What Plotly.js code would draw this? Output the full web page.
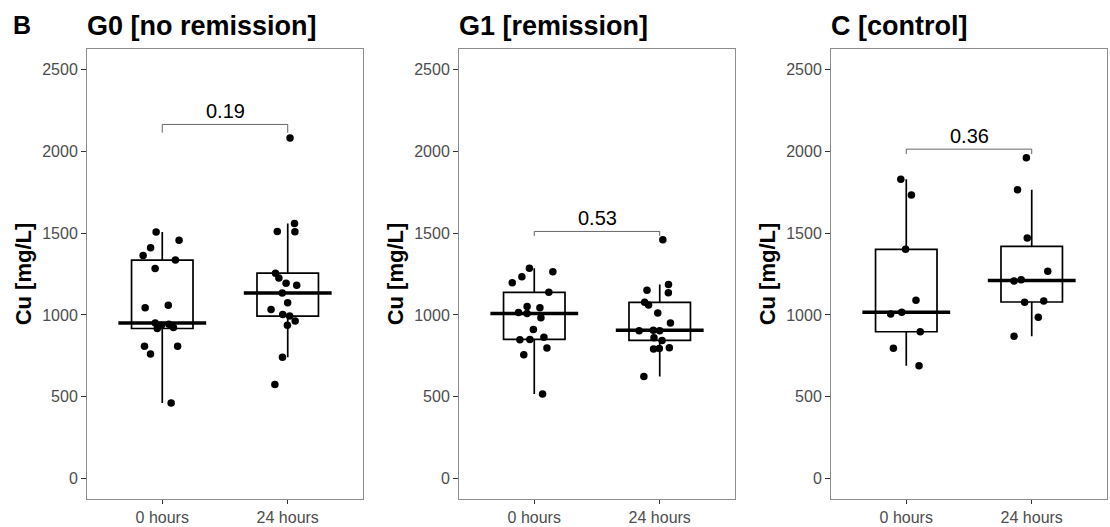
<!DOCTYPE html>
<html>
<head>
<meta charset="utf-8">
<script src="https://cdn.plot.ly/plotly-3.0.1.min.js"></script>
<style>
  html, body { margin: 0; padding: 0; background: #fff; }
  #chart { width: 1110px; height: 527px; }
</style>
</head>
<body>
<div id="chart"></div>
<script>
// Serum copper per patient group, before and 24 h after treatment
const timepoints = ['0 hours', '24 hours'];
const groupTitles = ['G0 [no remission]', 'G1 [remission]', 'C [control]'];
const pValues = ['0.19', '0.53', '0.36'];
const yTicks = [0, 500, 1000, 1500, 2000, 2500];

const g0Hour0 = [1507, 1456, 1411, 1363, 1335, 1284, 1059, 1043, 950, 923, 937, 917, 943, 808, 808, 761, 462];
const g0Hour24 = [2081, 1559, 1510, 1508, 1255, 1225, 1194, 1182, 1134, 1075, 1033, 1003, 993, 963, 937, 741, 575];

const g1Hour0 = [1285, 1264, 1197, 1233, 1138, 1014, 1008, 1043, 1051, 982, 911, 864, 848, 850, 798, 757, 516];
const g1Hour24 = [1460, 1186, 1150, 1136, 1077, 1060, 1012, 950, 907, 903, 903, 860, 844, 800, 795, 792, 623];

const cHour0 = [1829, 1733, 1401, 1090, 1017, 1005, 897, 796, 690];
const cHour24 = [1960, 1765, 1470, 1267, 1215, 1207, 1085, 1077, 985, 870];

const groups = [
  [g0Hour0, g0Hour24],
  [g1Hour0, g1Hour24],
  [cHour0, cHour24]
];

// Figure geometry (pixels)
const W = 1110, H = 527;
const panelLeft = [87, 459, 831];
const panelWidth = 276;
const plotTop = 49, plotBottom = 499;
const FONT = 'Liberation Sans, Arial, sans-serif';

// Bracket heights and tip lengths for the p-value labels (data units)
const bracketY = [2164, 1510, 2013];
const bracketTip = [50, 28, 30];

// Tukey box statistics with linearly interpolated quantiles
function quantile(sorted, p) {
  const h = (sorted.length - 1) * p;
  const lo = Math.floor(h);
  const hi = Math.min(lo + 1, sorted.length - 1);
  return sorted[lo] + (h - lo) * (sorted[hi] - sorted[lo]);
}
function boxStats(values) {
  const s = values.slice().sort((a, b) => a - b);
  const q1 = quantile(s, 0.25), med = quantile(s, 0.5), q3 = quantile(s, 0.75);
  const iqr = q3 - q1;
  const inside = s.filter(v => v >= q1 - 1.5 * iqr && v <= q3 + 1.5 * iqr);
  return { q1, med, q3, lo: inside[0], hi: inside[inside.length - 1] };
}

const traces = [];
const shapes = [];
const annotations = [];
const layout = {
  width: W, height: H,
  margin: { l: 0, r: 0, t: 0, b: 0 },
  paper_bgcolor: '#fff', plot_bgcolor: '#fff',
  showlegend: false,
  boxmode: 'overlay',
  font: { family: FONT, color: '#000' }
};

groups.forEach((pair, i) => {
  const s = i === 0 ? '' : String(i + 1);
  const stats = pair.map(boxStats);

  // boxes and whiskers
  traces.push({
    type: 'box', x: timepoints, xaxis: 'x' + s, yaxis: 'y' + s,
    q1: stats.map(d => d.q1), median: stats.map(d => d.med), q3: stats.map(d => d.q3),
    lowerfence: stats.map(d => d.lo), upperfence: stats.map(d => d.hi),
    boxpoints: false, whiskerwidth: 0,
    fillcolor: 'rgba(0,0,0,0)',
    line: { color: '#000', width: 1.7 },
    hoverinfo: 'skip'
  });

  // jittered observations
  const xs = [], ys = [];
  pair.forEach((vals, k) => vals.forEach(v => { xs.push(timepoints[k]); ys.push(v); }));
  traces.push({
    type: 'box', x: xs, y: ys, xaxis: 'x' + s, yaxis: 'y' + s,
    boxpoints: 'all', jitter: 0.8, pointpos: 0, whiskerwidth: 0,
    fillcolor: 'rgba(0,0,0,0)',
    line: { color: 'rgba(0,0,0,0)', width: 0 },
    marker: { color: '#000', size: 7.5 },
    hoverinfo: 'skip'
  });

  layout['xaxis' + s] = {
    type: 'category', categoryarray: timepoints, categoryorder: 'array',
    range: [-0.6, 1.6],
    domain: [panelLeft[i] / W, (panelLeft[i] + panelWidth) / W],
    anchor: 'y' + s,
    showgrid: false, zeroline: false,
    showline: true, mirror: true, linecolor: '#8c8c8c', linewidth: 1,
    ticks: 'outside', ticklen: 4, tickwidth: 1, tickcolor: '#333',
    tickfont: { family: FONT, size: 16, color: '#4d4d4d' },
    fixedrange: true
  };
  layout['yaxis' + s] = {
    range: [-125, 2625],
    domain: [1 - plotBottom / H, 1 - plotTop / H],
    anchor: 'x' + s,
    tickvals: yTicks,
    showgrid: false, zeroline: false,
    showline: true, mirror: true, linecolor: '#8c8c8c', linewidth: 1,
    ticks: 'outside', ticklen: 5, tickwidth: 1, tickcolor: '#333',
    tickfont: { family: FONT, size: 16, color: '#4d4d4d' },
    title: { text: '<b>Cu [mg/L]</b>', font: { family: FONT, size: 22, color: '#000' }, standoff: 4 },
    fixedrange: true
  };

  // thicker median bar, as in the classic boxplot style
  stats.forEach((d, k) => {
    shapes.push({
      type: 'line', xref: 'x' + s, yref: 'y' + s, layer: 'below',
      x0: k - 0.35, x1: k + 0.35, y0: d.med, y1: d.med,
      line: { color: '#000', width: 3.5 }
    });
  });

  // comparison bracket with p-value
  const yb = bracketY[i], tip = bracketTip[i];
  shapes.push({
    type: 'path', xref: 'x' + s, yref: 'y' + s,
    path: `M 0 ${yb - tip} L 0 ${yb} L 1 ${yb} L 1 ${yb - tip}`,
    line: { color: '#666', width: 1 }
  });
  annotations.push({
    xref: 'x' + s, yref: 'y' + s, x: 0.5, y: yb,
    text: pValues[i], showarrow: false, yanchor: 'bottom', yshift: 0,
    font: { family: FONT, size: 20, color: '#000' }
  });

  // panel title
  annotations.push({
    xref: 'paper', yref: 'paper',
    x: (panelLeft[i] - 2) / W, y: 1 - 26 / H,
    xanchor: 'left', yanchor: 'middle',
    text: '<b>' + groupTitles[i] + '</b>', showarrow: false,
    font: { family: FONT, size: 27, color: '#000' }
  });
});

// figure tag
annotations.push({
  xref: 'paper', yref: 'paper', x: 11 / W, y: 1 - 25 / H,
  xanchor: 'left', yanchor: 'middle',
  text: '<b>B</b>', showarrow: false,
  font: { family: FONT, size: 25, color: '#000' }
});

layout.shapes = shapes;
layout.annotations = annotations;

Plotly.newPlot('chart', traces, layout, { displayModeBar: false, staticPlot: true });
</script>
</body>
</html>
